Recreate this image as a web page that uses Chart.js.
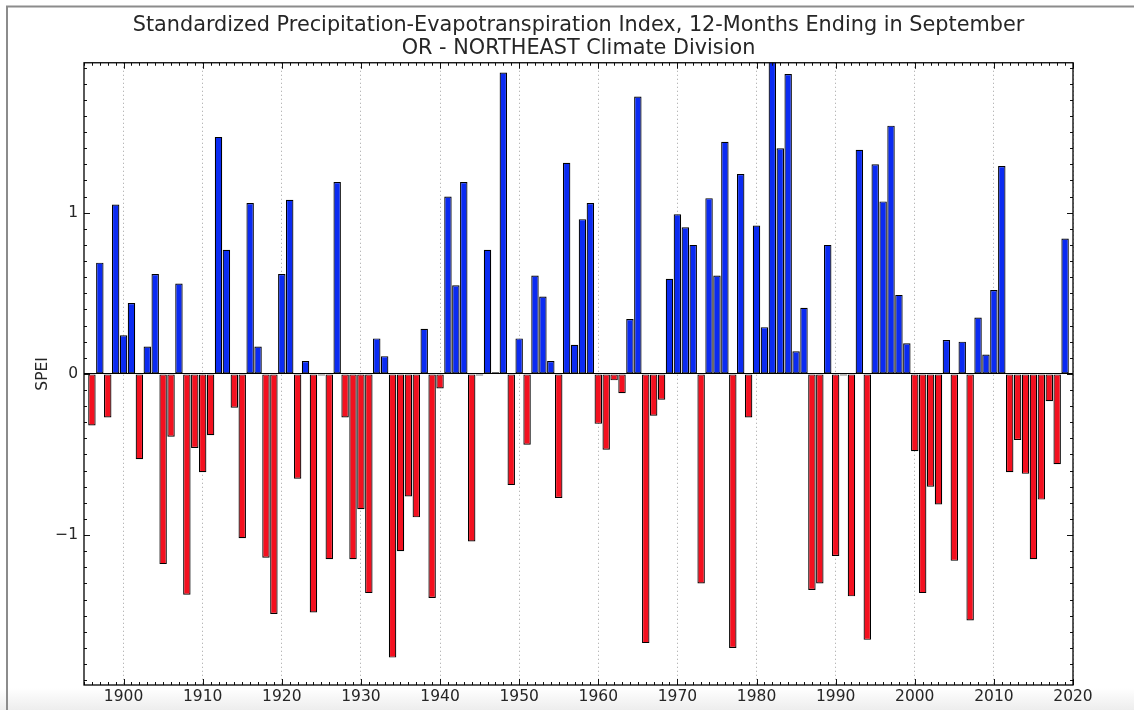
<!DOCTYPE html>
<html><head><meta charset="utf-8">
<script src="https://cdn.jsdelivr.net/npm/chart.js@4.4.1/dist/chart.umd.min.js"></script>
<style>html,body{margin:0;padding:0;background:#fff;overflow:hidden}#wrap{width:1134px;height:710px;position:relative}</style>
</head><body><div id="wrap"><canvas id="c" width="1134" height="710"></canvas></div>
<script>
const years = [1896,1897,1898,1899,1900,1901,1902,1903,1904,1905,1906,1907,1908,1909,1910,1911,1912,1913,1914,1915,1916,1917,1918,1919,1920,1921,1922,1923,1924,1925,1926,1927,1928,1929,1930,1931,1932,1933,1934,1935,1936,1937,1938,1939,1940,1941,1942,1943,1944,1945,1946,1947,1948,1949,1950,1951,1952,1953,1954,1955,1956,1957,1958,1959,1960,1961,1962,1963,1964,1965,1966,1967,1968,1969,1970,1971,1972,1973,1974,1975,1976,1977,1978,1979,1980,1981,1982,1983,1984,1985,1986,1987,1988,1989,1990,1991,1992,1993,1994,1995,1996,1997,1998,1999,2000,2001,2002,2003,2004,2005,2006,2007,2008,2009,2010,2011,2012,2013,2014,2015,2016,2017,2018,2019];
const spei = [
 -0.32, 0.69,-0.27, 1.05, 0.24, 0.44,-0.53, 0.17, 0.62,-1.18,
 -0.39, 0.56,-1.37,-0.46,-0.61,-0.38, 1.47, 0.77,-0.21,-1.02,
  1.06, 0.17,-1.14,-1.49, 0.62, 1.08,-0.65, 0.08,-1.48,-0.01,
 -1.15, 1.19,-0.27,-1.15,-0.84,-1.36, 0.22, 0.11,-1.76,-1.10,
 -0.76,-0.89, 0.28,-1.39,-0.09, 1.10, 0.55, 1.19,-1.04,-0.01,
  0.77, 0.01, 1.87,-0.69, 0.22,-0.44, 0.61, 0.48, 0.08,-0.77,
  1.31, 0.18, 0.96, 1.06,-0.31,-0.47,-0.04,-0.12, 0.34, 1.72,
 -1.67,-0.26,-0.16, 0.59, 0.99, 0.91, 0.80,-1.30, 1.09, 0.61,
  1.44,-1.70, 1.24,-0.27, 0.92, 0.29, 1.95, 1.40, 1.86, 0.14,
  0.41,-1.34,-1.30, 0.80,-1.13,-0.01,-1.38, 1.39,-1.65, 1.30,
  1.07, 1.54, 0.49, 0.19,-0.48,-1.36,-0.70,-0.81, 0.21,-1.16,
  0.20,-1.53, 0.35, 0.12, 0.52, 1.29,-0.61,-0.41,-0.62,-1.15,
 -0.78,-0.17,-0.56, 0.84];
const xTickValues = [1900,1910,1920,1930,1940,1950,1960,1970,1980,1990,2000,2010,2020];
const yTickValues = [-1,0,1];
const titleLines = ['Standardized Precipitation-Evapotranspiration Index, 12-Months Ending in September','OR - NORTHEAST Climate Division'];
const yAxisLabel = 'SPEI';

const FONT = 'DejaVu Sans';
const TEXT = '#262626';
const BLUE = '#0b2bf2';
const RED = '#f3101f';

const decor = {
  id: 'decor',
  beforeDraw(chart) {
    const ctx = chart.ctx;
    ctx.save();
    ctx.fillStyle = '#fff';
    ctx.fillRect(0, 0, chart.width, chart.height);
    const g = ctx.createLinearGradient(0, 688, 0, 710);
    g.addColorStop(0, '#ffffff'); g.addColorStop(1, '#ededed');
    ctx.fillStyle = g; ctx.fillRect(0, 688, chart.width, 22);
    ctx.strokeStyle = '#8c8c8c'; ctx.lineWidth = 2;
    ctx.beginPath(); ctx.moveTo(7, 710); ctx.lineTo(7, 6.5); ctx.lineTo(chart.width, 6.5); ctx.stroke();
    ctx.restore();
  },
  afterDatasetsDraw(chart) {
    const ctx = chart.ctx, ca = chart.chartArea, xs = chart.scales.x, ys = chart.scales.y;
    ctx.save();
    ctx.strokeStyle = '#111'; ctx.lineWidth = 1;
    ctx.beginPath();
    for (let v = Math.ceil(xs.min); v <= xs.max; v++) {
      const px = Math.round(xs.getPixelForValue(v)) + 0.5;
      const len = (v % 10 === 0) ? 6 : 3;
      ctx.moveTo(px, ca.bottom); ctx.lineTo(px, ca.bottom - len);
      ctx.moveTo(px, ca.top); ctx.lineTo(px, ca.top + len);
    }
    for (let k = Math.ceil(ys.min * 10); k <= Math.floor(ys.max * 10); k++) {
      const py = Math.round(ys.getPixelForValue(k / 10)) + 0.5;
      const len = (k % 10 === 0) ? 6 : 3;
      ctx.moveTo(ca.left, py); ctx.lineTo(ca.left + len, py);
      ctx.moveTo(ca.right, py); ctx.lineTo(ca.right - len, py);
    }
    ctx.stroke();
    ctx.lineWidth = 1.3; ctx.strokeStyle = '#000';
    ctx.strokeRect(ca.left, ca.top, ca.right - ca.left, ca.bottom - ca.top);
    ctx.restore();
  }
};

new Chart(document.getElementById('c'), {
  type: 'bar',
  data: {
    datasets: [{
      data: years.map((y, i) => ({x: y, y: spei[i]})),
      backgroundColor: c => (c.raw && c.raw.y >= 0) ? BLUE : RED,
      borderColor: '#000',
      borderWidth: 1.2,
      borderSkipped: false,
      barPercentage: 0.94,
      categoryPercentage: 1.0
    }]
  },
  options: {
    responsive: false,
    animation: false,
    devicePixelRatio: 1,
    layout: { padding: { left: 0, right: 61, top: 0, bottom: 0 } },
    plugins: {
      legend: { display: false },
      tooltip: { enabled: false },
      title: {
        display: true, text: titleLines, fullSize: false, color: TEXT,
        font: { family: FONT, size: 20.8, weight: 'normal', lineHeight: 1.1 },
        padding: { top: 14, bottom: 3 }
      }
    },
    scales: {
      x: {
        type: 'linear', min: 1895, max: 2020, offset: false,
        afterBuildTicks: s => { s.ticks = xTickValues.map(v => ({value: v})); },
        afterFit: s => { s.height = 25; },
        ticks: { font: { family: FONT, size: 15.5 }, color: TEXT, padding: 3, maxRotation: 0, autoSkip: false,
                 callback: v => String(v) },
        grid: { offset: false, drawTicks: false, color: '#a0a0a0', lineWidth: 1 },
        border: { display: false, dash: [1, 3] }
      },
      y: {
        min: -1.93, max: 1.93,
        afterBuildTicks: s => { s.ticks = yTickValues.map(v => ({value: v})); },
        afterFit: s => { s.width = 84; },
        ticks: { font: { family: FONT, size: 15.5 }, color: TEXT, padding: 6,
                 callback: v => v < 0 ? '\u2212' + Math.abs(v) : String(v) },
        grid: { drawTicks: false, color: c => (c.tick && c.tick.value === 0) ? '#000' : 'rgba(0,0,0,0)', lineWidth: 1 },
        border: { display: false },
        title: { display: true, text: yAxisLabel, color: TEXT, font: { family: FONT, size: 15.5 }, padding: { top: 34, bottom: 0 } }
      }
    }
  },
  plugins: [decor]
});
</script></body></html>
